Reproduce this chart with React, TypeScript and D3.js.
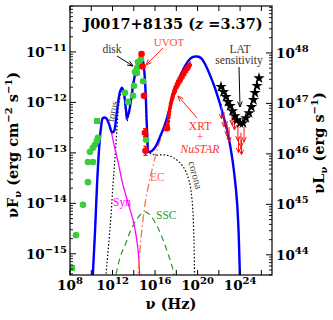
import React from "react";
import * as d3 from "d3";

// all model curves and data points: [log10 nu (Hz), log10 nuFnu (erg cm^-2 s^-1)]
const totalModel = [
  [10.1, -15.6], [10.35, -14.57], [10.54, -13.64], [10.73, -12.94], [10.92, -12.49], [11.1, -12.31],
  [11.39, -12.31], [11.67, -12.43], [11.95, -12.59], [12.14, -12.57], [12.33, -12.33], [12.52, -12.01],
  [12.7, -11.79], [12.89, -11.71], [13.08, -11.83], [13.27, -12.15], [13.36, -12.31], [13.55, -12.19],
  [13.74, -11.95], [14.02, -11.56], [14.3, -11.26], [14.58, -11.12], [14.77, -11.12], [14.96, -11.32],
  [15.1, -11.75], [15.2, -12.31], [15.29, -12.74], [15.38, -12.98], [15.52, -12.98], [15.81, -12.94],
  [16.09, -12.86], [16.47, -12.68], [16.84, -12.49], [17.12, -12.31], [17.41, -12.09], [17.69, -11.89],
  [18.06, -11.65], [18.44, -11.44], [18.82, -11.28], [19.19, -11.16], [19.57, -11.1], [19.95, -11.09],
  [20.32, -11.12], [20.7, -11.24], [21.17, -11.46], [21.64, -11.72], [22.11, -12.03], [22.48, -12.31],
  [22.86, -12.63], [23.24, -13.08], [23.52, -13.54], [23.71, -13.97], [23.85, -14.53], [24.0, -15.6],
];

const synModel = [
  [10.1, -15.6], [10.35, -14.57], [10.54, -13.64], [10.73, -12.94], [10.92, -12.49], [11.1, -12.31],
  [11.39, -12.33], [11.76, -12.49], [12.14, -12.84], [12.52, -13.18], [12.99, -13.64], [13.46, -13.99],
  [13.93, -14.33], [14.21, -14.63], [14.4, -14.92], [14.6, -15.6],
];

// torus + disk + corona
const thermalModel = [
  [11.3, -15.6], [11.67, -14.73], [11.86, -14.23], [12.04, -13.64], [12.23, -13.1], [12.42, -12.51],
  [12.61, -12.01], [12.89, -11.75], [13.08, -11.89], [13.36, -12.37], [13.64, -12.09], [14.02, -11.5],
  [14.4, -11.2], [14.68, -11.12], [14.87, -11.24], [15.05, -11.69], [15.24, -12.59], [15.43, -12.98],
  [16.0, -13.04], [16.94, -13.04], [17.59, -13.08], [18.16, -13.16], [18.72, -13.3], [19.19, -13.54],
  [19.48, -13.93], [19.66, -14.73], [19.72, -15.6],
];

const ecModel = [
  [14.33, -15.6], [14.58, -14.92], [14.77, -14.49], [14.96, -14.17], [15.15, -13.89], [15.43, -13.6],
  [15.71, -13.34], [16.0, -13.1], [16.28, -12.88], [16.56, -12.7], [16.84, -12.55], [17.12, -12.35],
  [17.41, -12.12], [17.69, -11.91], [18.06, -11.67], [18.44, -11.45], [18.82, -11.29], [19.19, -11.17],
  [19.57, -11.11], [19.95, -11.1], [20.32, -11.13], [20.7, -11.25], [21.17, -11.47], [21.64, -11.73],
  [22.11, -12.04], [22.48, -12.32], [22.86, -12.64], [23.24, -13.09], [23.52, -13.55], [23.71, -13.98],
  [23.85, -14.54], [24.0, -15.6],
];

const sscModel = [
  [12.15, -15.6], [12.7, -15.08], [13.27, -14.78], [13.74, -14.52], [14.3, -14.31], [14.68, -14.21],
  [15.06, -14.17], [15.43, -14.21], [15.81, -14.31], [16.28, -14.49], [16.75, -14.72], [17.22, -15.0],
  [17.69, -15.32], [17.85, -15.6],
];

const archivalCircles = [
  [8.56, -14.63], [9.22, -14.03], [9.69, -13.58], [9.69, -13.18], [10.16, -13.18], [9.88, -12.98],
  [10.16, -12.9], [10.35, -12.84], [10.54, -12.76], [10.63, -12.7], [13.17, -11.81], [13.46, -11.99],
  [13.93, -11.87], [14.02, -11.67], [14.11, -11.4], [14.3, -11.42], [14.3, -11.32], [14.49, -11.28],
  [14.58, -11.26], [14.4, -11.2], [14.68, -11.14], [14.87, -11.58], [15.15, -12.74],
];
const archivalSquares = [[8.19, -15.28], [10.54, -12.37]];

// [log nu, log nuFnu, error (dex)]
const uvotPoints = [
  [14.73, -11.04, 0], [14.82, -11.29, 0], [14.96, -11.87, 0], [15.05, -12.6, 0.08], [15.1, -12.96, 0.09],
  [17.12, -12.51, 0],
];

const xrtPoints = [
  [17.15, -12.52, 0.05], [17.2, -12.45, 0.06], [17.24, -12.38, 0.08], [17.28, -12.3, 0.07], [17.32, -12.24, 0.09],
  [17.36, -12.18, 0.08], [17.4, -12.12, 0.1], [17.44, -12.07, 0.09], [17.48, -12.02, 0.11], [17.53, -11.98, 0.1],
  [17.58, -11.94, 0.12], [17.63, -11.9, 0.1], [17.68, -11.86, 0.12], [17.73, -11.83, 0.11], [17.78, -11.8, 0.13],
  [17.84, -11.76, 0.1], [17.9, -11.73, 0.12], [17.96, -11.7, 0.11], [18.02, -11.68, 0.13], [18.08, -11.65, 0.1],
  [18.15, -11.62, 0.12], [18.22, -11.6, 0.11], [18.29, -11.57, 0.12], [18.36, -11.55, 0.1], [18.43, -11.52, 0.12],
  [18.5, -11.5, 0.11], [18.58, -11.47, 0.12], [18.66, -11.45, 0.1], [18.74, -11.42, 0.11], [18.82, -11.39, 0.1],
  [18.9, -11.37, 0.11], [18.98, -11.34, 0.09], [19.06, -11.32, 0.1], [19.14, -11.3, 0.08], [19.22, -11.28, 0.09],
  [19.3, -11.26, 0.08],
];

const latSensitivity = [
  [22.2, -11.69], [22.44, -11.79], [22.67, -11.89], [22.86, -11.99], [23.05, -12.07], [23.28, -12.17],
  [23.52, -12.27], [23.71, -12.35], [23.99, -12.41], [24.27, -12.41], [24.55, -12.31], [24.84, -12.21],
  [25.07, -12.09], [25.26, -11.95], [25.4, -11.81], [25.59, -11.67], [25.78, -11.52],
];

const latUpperLimits = [
  [22.25, -12.03], [22.48, -12.19], [22.77, -12.37], [22.96, -12.49], [23.24, -12.15], [23.47, -12.25],
  [23.8, -12.47], [23.85, -12.7], [24.08, -12.6], [24.13, -12.74], [24.37, -12.49],
];

const xTickExp = [8, 10, 12, 14, 16, 18, 20, 22, 24, 26];
const xLabelExp = [8, 12, 16, 20, 24];
const yLabelExp = [-15, -14, -13, -12, -11];
const yRightLabelExp = [44, 45, 46, 47, 48];

const FONT = "'DejaVu Serif', serif";
const TEXT = "'Liberation Serif', serif";
const L0 = 70, R0 = 272, T0 = 6, B0 = 275;
const LUM_OFFSET = 59.02;

const Arrow = ({ x1, y1, x2, y2, color, w = 1 }) => {
  const a = Math.atan2(y2 - y1, x2 - x1);
  const h = 6;
  const p1 = [x2 - h * Math.cos(a - 0.4), y2 - h * Math.sin(a - 0.4)];
  const p2 = [x2 - h * Math.cos(a + 0.4), y2 - h * Math.sin(a + 0.4)];
  return (
    <path
      d={`M${x1},${y1}L${x2},${y2}M${p1[0]},${p1[1]}L${x2},${y2}L${p2[0]},${p2[1]}`}
      stroke={color}
      strokeWidth={w}
      fill="none"
    />
  );
};

export default function App() {
  const x = d3.scaleLog().domain([1e8, 1e27]).range([L0, R0]);
  const y = d3.scaleLog().domain([10 ** -15.42, 10 ** -10.09]).range([B0, T0]);
  const yR = d3
    .scaleLog()
    .domain([10 ** (-15.42 + LUM_OFFSET), 10 ** (-10.09 + LUM_OFFSET)])
    .range([B0, T0]);
  const X = (l) => x(10 ** l);
  const Y = (l) => y(10 ** l);

  const line = d3
    .line()
    .x((d) => X(d[0]))
    .y((d) => Y(d[1]))
    .curve(d3.curveCatmullRom.alpha(0.5));

  const leftMinor = [];
  for (let e = -16; e <= -11; e++) for (let k = 2; k <= 9; k++) {
    const v = k * 10 ** e;
    if (v > y.domain()[0] && v < y.domain()[1]) leftMinor.push(v);
  }
  const rightMinor = [];
  for (let e = 43; e <= 48; e++) for (let k = 2; k <= 9; k++) {
    const v = k * 10 ** e;
    if (v > yR.domain()[0] && v < yR.domain()[1]) rightMinor.push(v);
  }

  const star = d3.symbol(d3.symbolStar, 40)();

  return (
    <svg width={333} height={320} style={{ position: "absolute", left: 0, top: 0, background: "#fff" }} fontFamily={FONT}>
      <defs>
        <clipPath id="plot">
          <rect x={L0} y={T0} width={R0 - L0} height={B0 - T0} />
        </clipPath>
      </defs>

      <g clipPath="url(#plot)">
        <path d={line(sscModel)} fill="none" stroke="#2e9a2e" strokeWidth={1.2} strokeDasharray="6,4" />
        <path d={line(thermalModel)} fill="none" stroke="#000" strokeWidth={1.2} strokeDasharray="1.5,2" />
        <path d={line(synModel)} fill="none" stroke="#ff00ff" strokeWidth={1.3} />
        <path d={line(ecModel)} fill="none" stroke="#ff7040" strokeWidth={1.3} strokeDasharray="8,3,1.5,3" />
        <path d={line(totalModel)} fill="none" stroke="#0000ff" strokeWidth={2.4} />

        {archivalCircles.map((d, i) => (
          <circle key={"g" + i} cx={X(d[0])} cy={Y(d[1])} r={3.3} fill="#3bcc3b" />
        ))}
        {archivalSquares.map((d, i) => (
          <rect key={"s" + i} x={X(d[0]) - 3} y={Y(d[1]) - 3} width={6} height={6} fill="#3bcc3b" />
        ))}

        {xrtPoints.map((d, i) => (
          <g key={"x" + i}>
            <line x1={X(d[0])} x2={X(d[0])} y1={Y(d[1] - d[2])} y2={Y(d[1] + d[2])} stroke="#ff0000" strokeWidth={1} />
            <circle cx={X(d[0])} cy={Y(d[1])} r={2} fill="#ff0000" />
          </g>
        ))}

        {uvotPoints.map((d, i) => (
          <g key={"u" + i}>
            {d[2] > 0 && (
              <path
                d={`M${X(d[0])},${Y(d[1] - d[2])}V${Y(d[1] + d[2])}M${X(d[0]) - 2},${Y(d[1] - d[2])}h4M${X(d[0]) - 2},${Y(d[1] + d[2])}h4`}
                stroke="#ff0000"
                strokeWidth={1.2}
              />
            )}
            <circle cx={X(d[0])} cy={Y(d[1])} r={3.3} fill="#ff0000" />
          </g>
        ))}

        {latUpperLimits.map((d, i) => {
          const cx = X(d[0]);
          const cy = Y(d[1]);
          return (
            <path
              key={"ul" + i}
              d={`M${cx},${cy}V${cy + 15}M${cx - 2.2},${cy + 10}L${cx},${cy + 15}L${cx + 2.2},${cy + 10}`}
              stroke="#ff1010"
              strokeWidth={1}
              fill="none"
            />
          );
        })}

        {latSensitivity.map((d, i) => (
          <path key={"st" + i} d={star} transform={`translate(${X(d[0])},${Y(d[1])})`} fill="#000" />
        ))}
      </g>

      {/* frame */}
      <rect x={L0} y={T0} width={R0 - L0} height={B0 - T0} fill="none" stroke="#000" strokeWidth={1.2} />

      {/* x ticks bottom/top */}
      {xTickExp.map((e) => (
        <g key={"xt" + e} stroke="#000" strokeWidth={1}>
          <line x1={X(e)} x2={X(e)} y1={B0} y2={B0 - 5} />
          <line x1={X(e)} x2={X(e)} y1={T0} y2={T0 + 5} />
        </g>
      ))}
      {xLabelExp.map((e) => (
        <text key={"xl" + e} x={X(e)} y={290} textAnchor="middle" fontSize={13.5} fontWeight="bold">
          10<tspan dy={-6} fontSize={10}>{e}</tspan>
        </text>
      ))}

      {/* y ticks left */}
      {yLabelExp.map((e) => (
        <g key={"yt" + e}>
          <line x1={L0} x2={L0 + 6} y1={Y(e)} y2={Y(e)} stroke="#000" />
          <text x={67} y={Y(e) + 5} textAnchor="end" fontSize={13.5} fontWeight="bold">
            10<tspan dy={-6} fontSize={10}>{"\u2212" + Math.abs(e)}</tspan>
          </text>
        </g>
      ))}
      {leftMinor.map((v, i) => (
        <line key={"lm" + i} x1={L0} x2={L0 + 3} y1={y(v)} y2={y(v)} stroke="#000" strokeWidth={0.9} />
      ))}

      {/* y ticks right */}
      {yRightLabelExp.map((e) => (
        <g key={"yr" + e}>
          <line x1={R0} x2={R0 - 6} y1={yR(10 ** e)} y2={yR(10 ** e)} stroke="#000" />
          <text x={276} y={yR(10 ** e) + 5} textAnchor="start" fontSize={13.5} fontWeight="bold">
            10<tspan dy={-6} fontSize={10}>{e}</tspan>
          </text>
        </g>
      ))}
      {rightMinor.map((v, i) => (
        <line key={"rm" + i} x1={R0} x2={R0 - 3} y1={yR(v)} y2={yR(v)} stroke="#000" strokeWidth={0.9} />
      ))}

      {/* axis titles */}
      <text transform="translate(18,145) rotate(-90)" textAnchor="middle" fontSize={14.5} fontWeight="bold">
        νF<tspan dy={3} fontSize={10}>ν</tspan>
        <tspan dy={-3}> (erg cm</tspan>
        <tspan dy={-6} fontSize={10}>−2</tspan>
        <tspan dy={6}> s</tspan>
        <tspan dy={-6} fontSize={10}>−1</tspan>
        <tspan dy={6}>)</tspan>
      </text>
      <text transform="translate(324,143) rotate(-90)" textAnchor="middle" fontSize={14.5} fontWeight="bold">
        νL<tspan dy={3} fontSize={10}>ν</tspan>
        <tspan dy={-3}> (erg s</tspan>
        <tspan dy={-6} fontSize={10}>−1</tspan>
        <tspan dy={6}>)</tspan>
      </text>
      <text x={171} y={309} textAnchor="middle" fontSize={14.5} fontWeight="bold">
        ν (Hz)
      </text>

      {/* title */}
      <text x={173} y={29} textAnchor="middle" fontSize={14.5} fontWeight="bold">
        J0017+8135 (<tspan fontStyle="italic">z</tspan> =3.37)
      </text>

      {/* annotations */}
      <g fontFamily={TEXT}>
        <text x={112} y={53} textAnchor="middle" fontSize={11.5} fill="#333">disk</text>
        <Arrow x1={117} y1={56} x2={133} y2={66} color="#000" />
        <text x={169} y={46} textAnchor="middle" fontSize={11} fill="#ff5030">UVOT</text>
        <Arrow x1={163} y1={48} x2={146} y2={65} color="#ff2020" />
        <text transform="translate(116,112) rotate(-78)" textAnchor="middle" fontSize={10.5} fill="#444">torus</text>
        <text transform="translate(192,176) rotate(75)" textAnchor="middle" fontSize={10.5} fill="#444">corona</text>
        <text x={150} y={181} fontSize={11.5} fill="#ff7040">EC</text>
        <text x={113} y={206} fontSize={11.5} fill="#ff00ff">Syn</text>
        <text x={156} y={219} fontSize={11.5} fill="#2e9a2e">SSC</text>
        <text x={200} y={130} textAnchor="middle" fontSize={11.5} fill="#ff3030">XRT</text>
        <text x={200} y={141} textAnchor="middle" fontSize={11.5} fill="#ff3030">+</text>
        <text x={200} y={153} textAnchor="middle" fontSize={11.5} fill="#ff3030" fontStyle="italic">NuSTAR</text>
        <Arrow x1={197} y1={118} x2={178} y2={96} color="#ff2020" />
        <text x={240} y={53} textAnchor="middle" fontSize={11.5} fill="#333">LAT</text>
        <text x={239} y={64} textAnchor="middle" fontSize={11.5} fill="#333">sensitivity</text>
        <Arrow x1={239} y1={67} x2={240} y2={107} color="#000" />
      </g>
    </svg>
  );
}
